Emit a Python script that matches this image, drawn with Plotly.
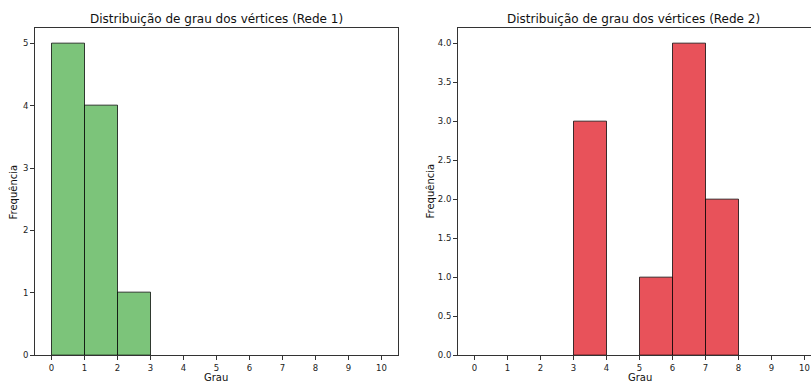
import plotly.graph_objects as go

# Data (histogram bins of width 1)
rede1_bins = [0, 1, 2]
rede1_counts = [5, 4, 1]
rede2_bins = [3, 5, 6, 7]
rede2_counts = [3, 1, 4, 2]
x_ticks = list(range(0, 11))
y1_ticks = [0, 1, 2, 3, 4, 5]
y2_ticks = [0.0, 0.5, 1.0, 1.5, 2.0, 2.5, 3.0, 3.5, 4.0]

W, H = 811, 387
FONT = "DejaVu Sans"
edge = "rgba(0,0,0,0.75)"

fig = go.Figure()
fig.add_trace(go.Bar(x=rede1_bins, y=rede1_counts, width=1, offset=0,
                     marker=dict(color="#7CC47A", line=dict(color=edge, width=1)),
                     xaxis="x", yaxis="y", showlegend=False))
fig.add_trace(go.Bar(x=rede2_bins, y=rede2_counts, width=1, offset=0,
                     marker=dict(color="#E8525A", line=dict(color=edge, width=1)),
                     xaxis="x2", yaxis="y2", showlegend=False))

yb = 1 - 360 / H
yt = 1 - 28 / H
x1a, x1b = 35 / W, 398 / W
x2a = 458 / W

axis_common = dict(showgrid=False, zeroline=False, showline=True, linecolor="#333",
                   linewidth=1, ticks="outside", ticklen=4, tickcolor="#333",
                   tickfont=dict(family=FONT, size=8.5, color="#222"))

fig.update_layout(
    width=W, height=H, margin=dict(l=0, r=0, t=0, b=0),
    paper_bgcolor="white", plot_bgcolor="white", bargap=0,
    font=dict(family=FONT),
    xaxis=dict(domain=[x1a, x1b], range=[-0.5, 10.5], tickvals=x_ticks,
               mirror=True, anchor="y", **axis_common),
    yaxis=dict(domain=[yb, yt], range=[0, 5.25], tickvals=y1_ticks,
               mirror=True, anchor="x", **axis_common),
    xaxis2=dict(domain=[x2a, 1], range=[-0.5, -0.5 + (W - 458) / 33.0], tickvals=x_ticks,
                mirror=True, anchor="y2", **axis_common),
    yaxis2=dict(domain=[yb, yt], range=[0, 4.2], tickvals=y2_ticks, tickformat=".1f",
                anchor="x2", **axis_common),
)

ann = []
def a(text, x, y, size, angle=0):
    ann.append(dict(text=text, x=x / W, y=1 - y / H, xref="paper", yref="paper",
                    showarrow=False, textangle=angle, xanchor="center", yanchor="middle",
                    font=dict(family=FONT, size=size, color="#111")))

a("Distribuição de grau dos vértices (Rede 1)", 216, 19, 12)
a("Distribuição de grau dos vértices (Rede 2)", 633, 19, 12)
a("Grau", 216, 382, 10)
a("Grau", 640, 382, 10)
a("Frequência", 13, 195, 10, -90)
a("Frequência", 430, 194, 10, -90)
fig.update_layout(annotations=ann)

fig.write_html("out.html", config={"displayModeBar": False},
               post_script="document.body.style.margin='0';document.body.style.overflow='hidden';")
